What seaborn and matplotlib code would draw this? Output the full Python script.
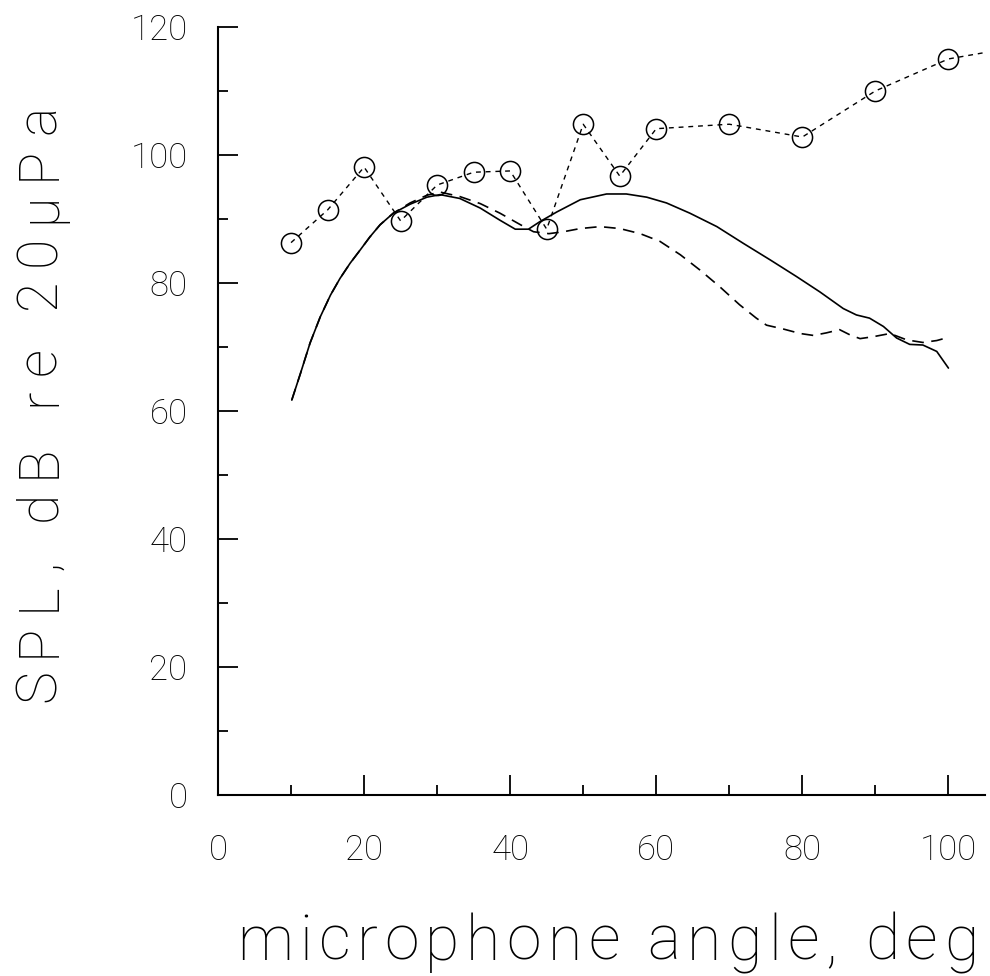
import numpy as np
import pandas as pd
import matplotlib
matplotlib.use("Agg")
import matplotlib.pyplot as plt
from matplotlib.font_manager import FontProperties
import seaborn as sns

# Measured SPL at each microphone angle (circles, dotted line)
meas_angle = [10, 15, 20, 25, 30, 35, 40, 45, 50, 55, 60, 70, 80, 90, 100, 105]
meas_spl = [86.3, 91.4, 98.1, 89.7, 95.3, 97.3, 97.5, 88.4, 104.8, 96.7,
            104.1, 104.8, 102.8, 110.0, 115.0, 116.0]

# Predicted SPL, model A (solid)
pred_a_angle = [10.1, 11.3, 12.6, 14.0, 15.4, 16.7, 18.1, 19.5, 20.8, 22.2,
                24.0, 26.3, 28.6, 30.4, 33.1, 35.9, 38.6, 40.7, 42.5, 44.1,
                46.4, 49.6, 53.2, 55.9, 58.7, 61.4, 64.6, 68.3, 71.9, 75.6,
                79.2, 82.4, 85.6, 87.4, 89.2, 91.1, 92.9, 94.7, 96.5, 98.4,
                100.0]
pred_a_spl = [61.7, 65.9, 70.6, 74.7, 78.1, 80.7, 83.1, 85.2, 87.2, 89.1,
              90.9, 92.3, 93.4, 93.8, 93.2, 91.7, 89.8, 88.4, 88.4, 89.6,
              91.1, 93.0, 93.9, 93.9, 93.4, 92.5, 90.9, 88.8, 86.2, 83.6,
              81.0, 78.6, 76.0, 75.0, 74.5, 73.2, 71.4, 70.4, 70.3, 69.3,
              66.7]

# Predicted SPL, model B (dashed)
pred_b_angle = [10.1, 11.3, 12.6, 14.0, 15.4, 16.7, 18.1, 19.5, 20.8, 22.2,
                24.0, 26.3, 28.6, 30.4, 33.1, 35.9, 38.6, 41.4, 43.2, 45.3,
                47.3, 49.6, 52.3, 55.0, 57.8, 60.5, 63.3, 66.0, 68.7, 71.4,
                73.7, 75.1, 77.4, 79.7, 81.5, 83.3, 85.1, 86.5, 87.9, 89.7,
                92.0, 94.3, 96.5, 98.4, 100.0]
pred_b_spl = [61.7, 65.9, 70.6, 74.7, 78.1, 80.7, 83.1, 85.2, 87.2, 89.1,
              90.9, 92.5, 93.7, 94.2, 93.5, 92.4, 90.9, 89.1, 88.0, 87.7,
              88.0, 88.5, 88.8, 88.5, 87.7, 86.5, 84.4, 82.0, 79.4, 76.6,
              74.5, 73.4, 72.8, 72.1, 71.8, 72.2, 72.7, 71.9, 71.3, 71.6,
              72.1, 71.1, 70.7, 71.0, 71.5]

x_ticks = [0, 20, 40, 60, 80, 100]
y_ticks = [0, 20, 40, 60, 80, 100, 120]
x_label = "microphone angle, deg"
y_label = "SPL, dB re 20\u03bcPa"

sns.set_theme(style="ticks")
plt.rcParams["font.family"] = ["Roboto", "DejaVu Sans"]
plt.rcParams["font.weight"] = "light"

fig = plt.figure(figsize=(9.9, 9.76), dpi=100)
ax = fig.add_axes([0.2202, 0.1855, 0.7747, 0.7869])

meas = pd.DataFrame({"angle": meas_angle, "spl": meas_spl})
pa = pd.DataFrame({"angle": pred_a_angle, "spl": pred_a_spl})
pb = pd.DataFrame({"angle": pred_b_angle, "spl": pred_b_spl})

sns.lineplot(data=pa, x="angle", y="spl", ax=ax, color="black", lw=1.2,
             sort=False, estimator=None)
sns.lineplot(data=pb, x="angle", y="spl", ax=ax, color="black", lw=1.2,
             sort=False, estimator=None, linestyle=(0, (7, 4.5)))
sns.lineplot(data=meas, x="angle", y="spl", ax=ax, color="black", lw=1.0,
             sort=False, estimator=None, linestyle=(0, (3.5, 3.5)),
             marker="o", markersize=14.5, markerfacecolor="none",
             markeredgecolor="black", markeredgewidth=1.1,
             markevery=list(range(len(meas_angle) - 1)))

ax.set_xlim(0, 105)
ax.set_ylim(0, 120)
ax.set_xticks(x_ticks)
ax.set_yticks(y_ticks)
ax.set_xticks(np.arange(10, 105, 20), minor=True)
ax.set_yticks(np.arange(10, 120, 20), minor=True)
ax.tick_params(axis="both", which="major", direction="in", length=14.5,
               width=1.3, color="black", labelsize=25, labelcolor="black")
ax.tick_params(axis="both", which="minor", direction="in", length=7.5,
               width=1.3, color="black")
ax.tick_params(axis="x", which="major", pad=28)
ax.tick_params(axis="y", which="major", pad=22)

for side in ("top", "right"):
    ax.spines[side].set_visible(False)
for side in ("left", "bottom"):
    ax.spines[side].set_linewidth(1.5)
    ax.spines[side].set_color("black")

ax.set_xlabel("")
ax.set_ylabel("")

# Axis titles drawn with wide letter spacing, one glyph at a time
fig.canvas.draw()
renderer = fig.canvas.get_renderer()
W, H = fig.bbox.width, fig.bbox.height


def advance(s, prop):
    w_bar = renderer.get_text_width_height_descent("|", prop, ismath=False)[0]
    w_s = renderer.get_text_width_height_descent(s + "|", prop, ismath=False)[0]
    return w_s - w_bar


def spaced_text(s, start, end, base, size, vertical=False):
    prop = FontProperties(family=["Roboto", "DejaVu Sans"], weight="light",
                          size=size)
    natural = advance(s, prop)
    track = (end - start - natural) / (len(s) - 1)
    for i, ch in enumerate(s):
        pos = start + advance(s[:i], prop) + i * track
        if vertical:
            fig.text(base / W, pos / H, ch, fontproperties=prop,
                     rotation=90, rotation_mode="anchor",
                     ha="left", va="baseline", color="black")
        else:
            fig.text(pos / W, base / H, ch, fontproperties=prop,
                     ha="left", va="baseline", color="black")


# x title: spans ~237..980 px, baseline ~960 px from top
spaced_text(x_label, 237, 978, H - 960, 45)
# y title: reads upward from ~700 to ~105 px from top, baseline at x ~55
spaced_text(y_label, H - 702, H - 105, 55, 40, vertical=True)

fig.savefig("out.png", dpi=100, facecolor="white")
